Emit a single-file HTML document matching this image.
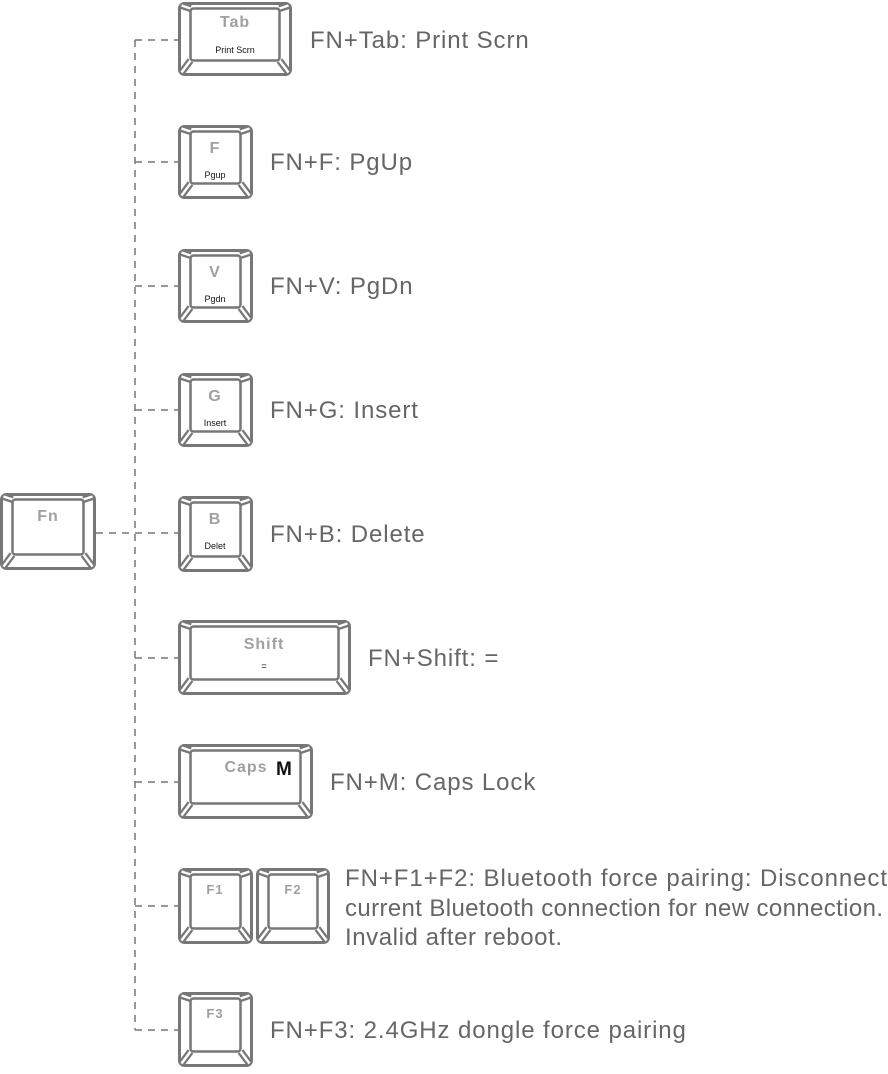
<!DOCTYPE html>
<html><head><meta charset="utf-8"><style>
body{margin:0;background:#fff;width:888px;height:1069px;overflow:hidden}
svg text{font-family:"Liberation Sans",sans-serif}
.lbl{font-size:24px;fill:#666;letter-spacing:0.9px}
.k{font-size:16px;fill:#a0a0a0;font-weight:bold;text-anchor:middle;letter-spacing:1px}
.s{font-size:9px;fill:#111;text-anchor:middle}
</style></head><body>
<svg width="888" height="1069" viewBox="0 0 888 1069" xmlns="http://www.w3.org/2000/svg">
<g stroke="#777" stroke-width="1.5" stroke-dasharray="7,6" fill="none">
<line x1="135" y1="40" x2="135" y2="1030"/>
<line x1="135" y1="40" x2="178" y2="40"/>
<line x1="135" y1="162" x2="178" y2="162"/>
<line x1="135" y1="286" x2="178" y2="286"/>
<line x1="135" y1="410" x2="178" y2="410"/>
<line x1="96" y1="533" x2="178" y2="533"/>
<line x1="135" y1="658" x2="178" y2="658"/>
<line x1="135" y1="782" x2="178" y2="782"/>
<line x1="135" y1="906" x2="178" y2="906"/>
<line x1="135" y1="1030" x2="178" y2="1030"/>
</g>
<g id="keys"></g>
<text x="310" y="48" class="lbl">FN+Tab: Print Scrn</text>
<text x="270" y="170" class="lbl">FN+F: PgUp</text>
<text x="270" y="294" class="lbl">FN+V: PgDn</text>
<text x="270" y="418" class="lbl">FN+G: Insert</text>
<text x="270" y="542" class="lbl">FN+B: Delete</text>
<text x="368" y="666" class="lbl">FN+Shift: =</text>
<text x="330" y="790" class="lbl">FN+M: Caps Lock</text>
<text x="345" y="886" class="lbl" style="letter-spacing:0" textLength="542" lengthAdjust="spacing">FN+F1+F2: Bluetooth force pairing: Disconnect</text>
<text x="345" y="916" class="lbl" style="letter-spacing:0" textLength="538" lengthAdjust="spacing">current Bluetooth connection for new connection.</text>
<text x="345" y="945" class="lbl" style="letter-spacing:0" textLength="217" lengthAdjust="spacing">Invalid after reboot.</text>
<text x="270" y="1038" class="lbl">FN+F3: 2.4GHz dongle force pairing</text>
<text x="235" y="27" class="k">Tab</text><text x="235" y="53" class="s">Print Scrn</text>
<text x="215" y="153" class="k">F</text><text x="215" y="178" class="s">Pgup</text>
<text x="215" y="277" class="k">V</text><text x="215" y="302" class="s">Pgdn</text>
<text x="215" y="401" class="k">G</text><text x="215" y="426" class="s">Insert</text>
<text x="48" y="521" class="k">Fn</text>
<text x="215" y="524" class="k">B</text><text x="215" y="549" class="s">Delet</text>
<text x="264" y="649" class="k">Shift</text><text x="264" y="669" class="s">=</text>
<text x="246" y="772" class="k">Caps</text><text x="276" y="775" style="font-size:19px;font-weight:bold;fill:#111;font-family:'Liberation Sans',sans-serif">M</text>
<text x="215" y="894" class="k" style="font-size:13px">F1</text>
<text x="293" y="894" class="k" style="font-size:13px">F2</text>
<text x="215" y="1018" class="k" style="font-size:13px">F3</text>
</svg>
<script>
var ks=[[178,2,114,74],[178,125,75,74],[178,249,75,74],[178,373,75,74],[0,493,96,77],[178,496,75,76],[178,620,173,75],[178,744,135,75],[178,868,75,76],[256,868,74,76],[178,992,75,75]];
var g=document.getElementById('keys'),h='';
ks.forEach(function(k){var x=k[0]+1.5,y=k[1]+1.5,w=k[2]-3,hh=k[3]-3;
var ix=x+11,iy=y+5,iw=w-22,ih=hh-19;
var c=[[x+2,y+2,ix,iy],[x+w-2,y+2,ix+iw,iy],[x+2,y+hh-2,ix,iy+ih],[x+w-2,y+hh-2,ix+iw,iy+ih]];
h+='<rect x="'+x+'" y="'+y+'" width="'+w+'" height="'+hh+'" rx="5" fill="#fff" stroke="#777" stroke-width="3"/>';
c.forEach(function(p){h+='<line x1="'+p[0]+'" y1="'+p[1]+'" x2="'+p[2]+'" y2="'+p[3]+'" stroke="#777" stroke-width="7"/><line x1="'+p[0]+'" y1="'+p[1]+'" x2="'+p[2]+'" y2="'+p[3]+'" stroke="#fff" stroke-width="2.5"/>';});
h+='<rect x="'+ix+'" y="'+iy+'" width="'+iw+'" height="'+ih+'" rx="3" fill="#fff" stroke="#777" stroke-width="2.5"/>';});
g.innerHTML=h;
</script>
</body></html>
